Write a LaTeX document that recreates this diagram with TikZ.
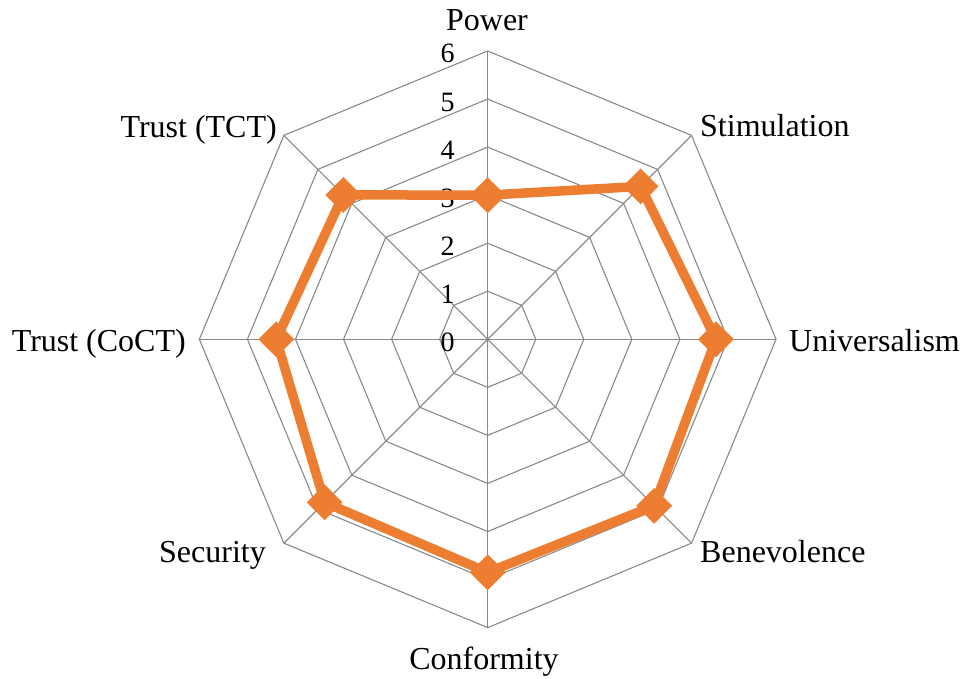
\documentclass[tikz,border=0pt]{standalone}
\usepackage{fontspec}
\setmainfont{Liberation Serif}
\usetikzlibrary{calc,shapes.geometric}
\definecolor{seriesorange}{RGB}{237,125,49}
\definecolor{gridgray}{RGB}{137,137,137}
\begin{document}
\begin{tikzpicture}[x=1pt,y=1pt,
  gridline/.style={draw=gridgray,line width=1.1pt},
  series/.style={draw=seriesorange,line width=9.5pt,line join=miter},
  marker/.style={fill=seriesorange,shape=diamond,minimum size=36pt,inner sep=0pt},
  axislabel/.style={font=\fontsize{32}{32}\selectfont,inner sep=0pt,anchor=base},
  ticklabel/.style={font=\fontsize{28}{28}\selectfont,inner sep=0pt,anchor=base east}]
\useasboundingbox (0,0) rectangle (962,679);
\coordinate (c) at (487.7,339.7);
\def\unitr{48.05}
% concentric octagons
\foreach \k in {1,...,6}{
  \draw[gridline] ($(c)+(90:\k*\unitr)$)
    \foreach \i in {1,...,7}{ -- ($(c)+(90-45*\i:\k*\unitr)$) } -- cycle;
}
% spokes
\foreach \i in {0,...,7}{
  \coordinate (v\i) at ($(c)+(90-45*\i:6*\unitr)$);
  \draw[gridline] (c) -- (v\i);
}
% scale numbers
\foreach \k in {0,...,6}{
  \node[ticklabel] (t\k) at ($(c)+(-33,\k*\unitr-12)$) {\k};
}
% data points
\foreach \v [count=\i from 0] in {3,4.5,4.75,4.9,4.85,4.8,4.4,4.25}{
  \coordinate (p\i) at ($(c)+(90-45*\i:\v*\unitr)$);
}
\draw[series] (p0) -- (p1) -- (p2) -- (p3) -- (p4) -- (p5) -- (p6) -- (p7) -- cycle;
\foreach \i in {0,...,7}{ \node[marker] (m\i) at (p\i) {}; }
% axis labels
\node[axislabel] (lpow) at (487,648) {Power};
\node[axislabel,anchor=base west] (lsti) at (700,542) {Stimulation};
\node[axislabel,anchor=base west] (luni) at (789,327) {Universalism};
\node[axislabel,anchor=base west] (lben) at (700,116) {Benevolence};
\node[axislabel] (lcon) at (484,9) {Conformity};
\node[axislabel,anchor=base east] (lsec) at (266,116) {Security};
\node[axislabel,anchor=base east] (lcoc) at (186,327) {Trust (CoCT)};
\node[axislabel,anchor=base east] (ltct) at (277,541) {Trust (TCT)};
\end{tikzpicture}
\end{document}
